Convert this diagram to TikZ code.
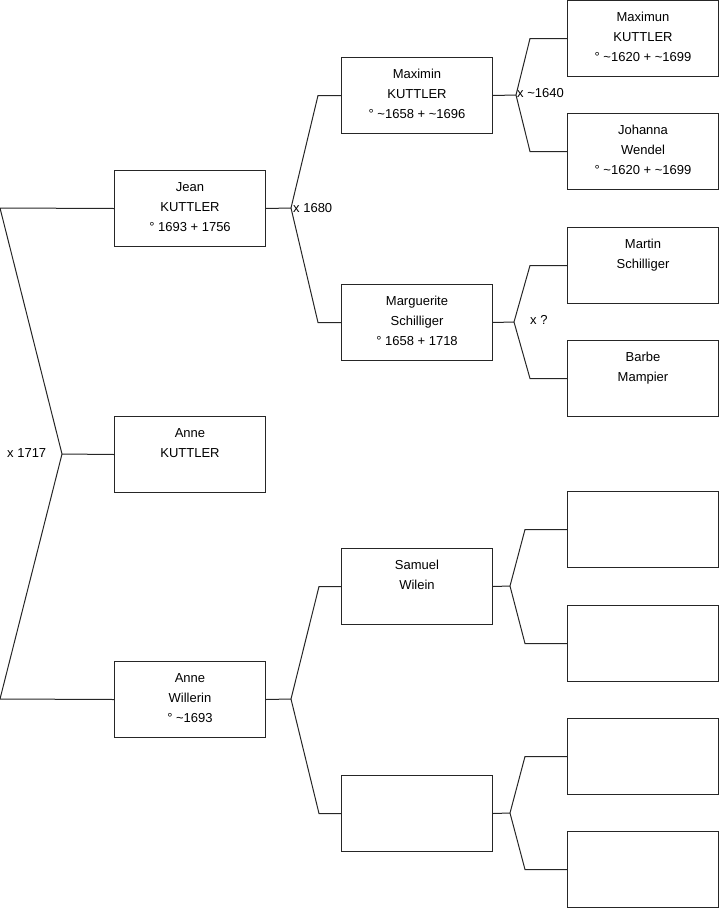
\documentclass[tikz,border=0pt]{standalone}
\usepackage{fontspec}
\setmainfont{Liberation Sans}
\newcommand{\tl}{\textasciitilde}
\begin{document}
\begin{tikzpicture}[x=1pt,y=-1pt,
  box/.style={draw=black!85, line width=1pt, minimum width=151pt, minimum height=76pt, inner sep=0pt, anchor=north west},
  txt/.style={anchor=north, inner sep=0pt, align=center, font=\fontsize{13}{20}\selectfont},
  conn/.style={draw=black!85, line width=1pt},
  lbl/.style={anchor=west, inner sep=0pt, font=\fontsize{13}{16}\selectfont}]
\useasboundingbox (0,0) rectangle (719,908);
% generation 1
\node[box] (jean) at (114,170) {};
\node[txt] (jeant) at ([yshift=-12.3pt]jean.north) {Jean\\KUTTLER\\° 1693 + 1756};
\node[box] (annek) at (114,416) {};
\node[txt] (annekt) at ([yshift=-12.3pt]annek.north) {Anne\\KUTTLER};
\node[box] (annew) at (114,661) {};
\node[txt] (annewt) at ([yshift=-12.3pt]annew.north) {Anne\\Willerin\\° \tl1693};
% generation 2
\node[box] (maximin) at (341,57) {};
\node[txt] (maximint) at ([yshift=-12.3pt]maximin.north) {Maximin\\KUTTLER\\° \tl1658 + \tl1696};
\node[box] (marg) at (341,284) {};
\node[txt] (margt) at ([yshift=-12.3pt]marg.north) {Marguerite\\Schilliger\\° 1658 + 1718};
\node[box] (samuel) at (341,548) {};
\node[txt] (samuelt) at ([yshift=-12.3pt]samuel.north) {Samuel\\Wilein};
\node[box] (empa) at (341,775) {};
% generation 3
\node[box] (maximun) at (567,0) {};
\node[txt] (maximunt) at ([yshift=-12.3pt]maximun.north) {Maximun\\KUTTLER\\° \tl1620 + \tl1699};
\node[box] (johanna) at (567,113) {};
\node[txt] (johannat) at ([yshift=-12.3pt]johanna.north) {Johanna\\Wendel\\° \tl1620 + \tl1699};
\node[box] (martin) at (567,227) {};
\node[txt] (martint) at ([yshift=-12.3pt]martin.north) {Martin\\Schilliger};
\node[box] (barbe) at (567,340) {};
\node[txt] (barbet) at ([yshift=-12.3pt]barbe.north) {Barbe\\Mampier};
\node[box] (e1) at (567,491) {};
\node[box] (e2) at (567,605) {};
\node[box] (e3) at (567,718) {};
\node[box] (e4) at (567,831) {};
% connectors
\coordinate (r1) at (0,208);
\coordinate (v0) at (62,454);
\coordinate (r2) at (0,699);
\draw[conn] (jean.west) -- (r1) -- (v0) -- (r2) -- (annew.west);
\draw[conn] (v0) -- (annek.west);
\node[lbl] (l0) at (7,453) {x 1717};

\coordinate (v1) at (291,208);
\draw[conn] (jean.east) -- (v1);
\draw[conn] (maximin.west) -- ([xshift=-23pt]maximin.west) -- (v1) -- ([xshift=-23pt]marg.west) -- (marg.west);
\node[lbl] (l1) at (293,208) {x 1680};

\coordinate (v2) at (516,95);
\draw[conn] (maximin.east) -- (v2);
\draw[conn] (maximun.west) -- ([xshift=-37pt]maximun.west) -- (v2) -- ([xshift=-37pt]johanna.west) -- (johanna.west);
\node[lbl] (l2) at (517,93) {x \tl1640};

\coordinate (v3) at (514,322);
\draw[conn] (marg.east) -- (v3);
\draw[conn] (martin.west) -- ([xshift=-37pt]martin.west) -- (v3) -- ([xshift=-37pt]barbe.west) -- (barbe.west);
\node[lbl] (l3) at (530,320) {x ?};

\coordinate (v4) at (291,699);
\draw[conn] (annew.east) -- (v4);
\draw[conn] (samuel.west) -- ([xshift=-22pt]samuel.west) -- (v4) -- ([xshift=-22pt]empa.west) -- (empa.west);

\coordinate (v5) at (510,586);
\draw[conn] (samuel.east) -- (v5);
\draw[conn] (e1.west) -- ([xshift=-42pt]e1.west) -- (v5) -- ([xshift=-42pt]e2.west) -- (e2.west);

\coordinate (v6) at (510,813);
\draw[conn] (empa.east) -- (v6);
\draw[conn] (e3.west) -- ([xshift=-42pt]e3.west) -- (v6) -- ([xshift=-42pt]e4.west) -- (e4.west);
\end{tikzpicture}
\end{document}
